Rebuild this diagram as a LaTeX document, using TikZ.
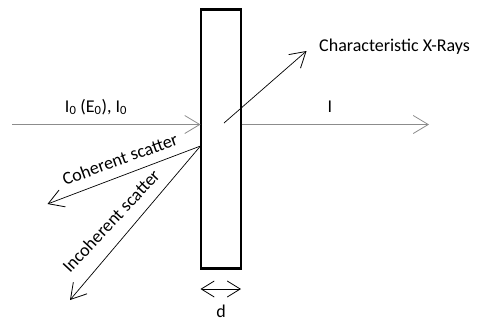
\documentclass[tikz,border=0pt]{standalone}
\usepackage{fontspec}
\setmainfont{Carlito}
\usetikzlibrary{arrows.meta}
\begin{document}
\begin{tikzpicture}[x=1pt,y=-1pt,
  barb/.style={-{Straight Barb[length=15pt,width=18pt,line width=0.8pt]}},
  beam/.style={barb,draw=gray!90,line width=1pt},
  ray/.style={barb,draw=black,line width=0.7pt},
  lbl/.style={font=\fontsize{18}{20}\selectfont,inner sep=0pt}]
\useasboundingbox (0,0) rectangle (478,322);
% slab
\node[draw,line width=2.4pt,minimum width=40pt,minimum height=259pt,inner sep=0pt] (slab) at (221,139) {};
% coordinates
\coordinate (in0) at (12,124.5);
\coordinate (hit) at (200.5,124.5);
\coordinate (exit) at (241.5,124.5);
\coordinate (out) at (429,124.5);
\coordinate (xr0) at (224,123);
\coordinate (xr1) at (306.5,51);
\coordinate (sc0) at (200.5,146);
\coordinate (coh) at (47.5,204);
\coordinate (inc) at (70,300);
\coordinate (dl) at (200.5,289);
\coordinate (dr) at (241,289);
% beams
\draw[beam] (in0) -- (hit);
\draw[beam] (exit) -- (out);
\draw[ray] (xr0) -- (xr1);
\draw[ray] (sc0) -- (coh);
\draw[ray] (sc0) -- (inc);
\draw[{Straight Barb[length=13pt,width=16pt,line width=0.8pt]}-{Straight Barb[length=13pt,width=16pt,line width=0.8pt]},line width=0.5pt] (dl) -- (dr);
% labels
\node[lbl] (lin) at (96,107) {I\textsubscript{0} (E\textsubscript{0}), I\textsubscript{0}};
\node[lbl] (lout) at (330,107) {I};
\node[lbl,anchor=west] (lxr) at (319,47) {Characteristic X-Rays};
\node[lbl,rotate=20] (lcoh) at (120,159) {Coherent scatter};
\node[lbl,rotate=47] (linc) at (111,221) {Incoherent scatter};
\node[lbl] (ld) at (221,311) {d};
\end{tikzpicture}
\end{document}
